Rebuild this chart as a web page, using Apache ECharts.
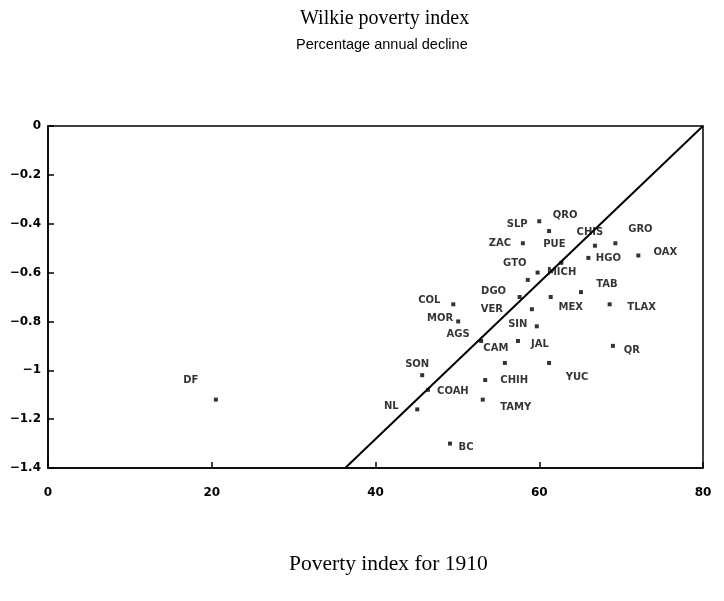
<!DOCTYPE html>
<html>
<head>
<meta charset="utf-8">
<script src="https://cdn.jsdelivr.net/npm/echarts@6/dist/echarts.min.js"></script>
<style>
  html, body { margin: 0; padding: 0; background: #fff; }
  #chart { width: 724px; height: 601px; }
</style>
</head>
<body>
<div id="chart"></div>
<script>
// Mexican states: poverty index in 1910 vs. percentage annual decline
const states = ['SLP','QRO','ZAC','CHIS','GRO','OAX','HGO','PUE','MICH','GTO',
  'TAB','MEX','TLAX','DGO','VER','COL','MOR','AGS','SIN','JAL',
  'QR','CAM','YUC','SON','CHIH','COAH','TAMY','NL','BC','DF'];
const povertyIndex1910 = [60.0, 61.2, 58.0, 66.8, 69.3, 72.1, 66.0, 62.7, 59.8, 58.6,
  65.1, 61.4, 68.6, 57.6, 59.1, 49.5, 50.1, 52.9, 59.7, 57.4,
  69.0, 55.8, 61.2, 45.7, 53.4, 46.4, 53.1, 45.1, 49.1, 20.5];
const annualDecline = [-0.39, -0.43, -0.48, -0.49, -0.48, -0.53, -0.54, -0.56, -0.60, -0.63,
  -0.68, -0.70, -0.73, -0.70, -0.75, -0.73, -0.80, -0.88, -0.82, -0.88,
  -0.90, -0.97, -0.97, -1.02, -1.04, -1.08, -1.12, -1.16, -1.30, -1.12];
// reference line endpoints
const refLineX = [36.3, 80];
const refLineY = [-1.4, 0];
const xTicks = [0, 20, 40, 60, 80];
const yTicks = [0, -0.2, -0.4, -0.6, -0.8, -1, -1.2, -1.4];

// where each state's label sits relative to its marker (px)
const labelOffset = {
  SLP: [-22, 3], QRO: [16, -16], ZAC: [-23, 0], CHIS: [-5, -13], GRO: [25, -14],
  OAX: [27, -3], HGO: [20, 0], PUE: [-7, -18], MICH: [24, 0], GTO: [-13, -16],
  TAB: [26, -8], MEX: [20, 10], TLAX: [32, 3], DGO: [-26, -6], VER: [-40, 0],
  COL: [-24, -4], MOR: [-18, -3], AGS: [-23, -7], SIN: [-19, -2], JAL: [22, 3],
  QR: [19, 5], CAM: [-9, -15], YUC: [28, 14], SON: [-5, -11], CHIH: [29, 0],
  COAH: [25, 2], TAMY: [33, 8], NL: [-26, -3], BC: [16, 4], DF: [-25, -19]
};

const points = states.map((s, i) => ({
  name: s,
  value: [povertyIndex1910[i], annualDecline[i]],
  label: { offset: labelOffset[s] }
}));

const fmtMinus = v => String(v).replace('-', '\u2212');

const chart = echarts.init(document.getElementById('chart'));
chart.setOption({
  animation: false,
  backgroundColor: '#fff',
  grid: {
    left: 48, right: 21, top: 126, bottom: 133,
    show: true, borderColor: '#000', borderWidth: 1.5, backgroundColor: 'transparent'
  },
  graphic: [
    { type: 'text', left: 300, top: 9,
      style: { text: 'Wilkie poverty index', font: '20px "Liberation Serif", serif', fill: '#000' } },
    { type: 'text', left: 296, top: 37,
      style: { text: 'Percentage annual decline', font: '14.5px "Liberation Sans", Arial, sans-serif', fill: '#000' } },
    { type: 'text', left: 289, top: 553,
      style: { text: 'Poverty index for 1910', font: '21.5px "Liberation Serif", serif', fill: '#000' } }
  ],
  xAxis: {
    type: 'value', min: xTicks[0], max: xTicks[xTicks.length - 1], interval: 20,
    axisLine: { show: true, onZero: false, lineStyle: { color: '#000', width: 1.5 } },
    axisTick: { show: true, inside: true, length: 6, lineStyle: { color: '#000', width: 1.5 } },
    axisLabel: { color: '#000', fontFamily: '"DejaVu Sans", sans-serif', fontSize: 12, fontWeight: 'bold', margin: 19 },
    splitLine: { show: false }
  },
  yAxis: {
    type: 'value', min: yTicks[yTicks.length - 1], max: yTicks[0], interval: 0.2,
    axisLine: { show: true, onZero: false, lineStyle: { color: '#000', width: 1.5 } },
    axisTick: { show: true, inside: true, length: 6, lineStyle: { color: '#000', width: 1.5 } },
    axisLabel: { color: '#000', fontFamily: '"DejaVu Sans", sans-serif', fontSize: 12, fontWeight: 'bold', margin: 7,
      formatter: v => fmtMinus(Math.round(v * 10) / 10) },
    splitLine: { show: false }
  },
  series: [
    {
      type: 'line',
      data: refLineX.map((x, i) => [x, refLineY[i]]),
      symbol: 'none',
      lineStyle: { color: '#000', width: 2 },
      silent: true
    },
    {
      type: 'scatter',
      data: points,
      symbol: 'rect',
      symbolSize: 4,
      itemStyle: { color: '#000' },
      label: {
        show: true, position: 'inside',
        formatter: p => p.name,
        color: '#000',
        fontFamily: '"DejaVu Sans", sans-serif',
        fontWeight: 'bold',
        fontSize: 10
      }
    }
  ]
});
</script>
</body>
</html>
